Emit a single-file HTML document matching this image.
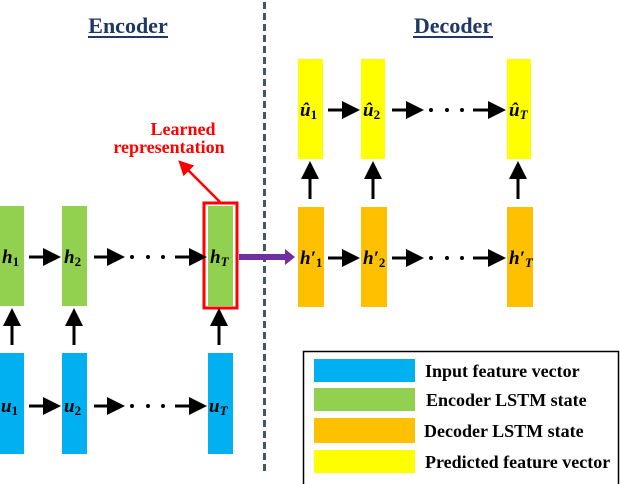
<!DOCTYPE html>
<html><head><meta charset="utf-8"><style>
body{margin:0;background:#fff;}
svg{display:block}
text{font-family:"Liberation Serif",serif;font-weight:bold;}
</style></head><body>
<svg width="620" height="484" viewBox="0 0 620 484" xmlns="http://www.w3.org/2000/svg">
<defs>
<marker id="a" markerWidth="6" markerHeight="6" refX="5" refY="3" orient="auto" markerUnits="strokeWidth"><path d="M0,0 L6,3 L0,6z" fill="#000"/></marker>
<marker id="r" markerWidth="6" markerHeight="6" refX="5" refY="3" orient="auto" markerUnits="strokeWidth"><path d="M0,0 L6,3 L0,6z" fill="#f00"/></marker>
</defs>
<line x1="264.5" y1="2" x2="264.5" y2="472" stroke="#44546a" stroke-width="3" stroke-dasharray="7,4"/>
<text x="128" y="33" font-size="22" fill="#1f3864" text-anchor="middle">Encoder</text>
<line x1="88" y1="37" x2="168" y2="37" stroke="#1f3864" stroke-width="2"/>
<text x="453" y="33" font-size="22" fill="#1f3864" text-anchor="middle">Decoder</text>
<line x1="413" y1="37" x2="493" y2="37" stroke="#1f3864" stroke-width="2"/>
<text x="183" y="135" font-size="18" fill="#f00" text-anchor="middle">Learned</text>
<text x="169" y="153" font-size="18" fill="#f00" text-anchor="middle">representation</text>
<line x1="220" y1="202" x2="180" y2="162" stroke="#f00" stroke-width="2.5" marker-end="url(#r)"/>
<g fill="#92d050"><rect x="0" y="206" width="24" height="100"/><rect x="62" y="206" width="25" height="100"/><rect x="208" y="206" width="25" height="100"/></g>
<g fill="#00b0f0"><rect x="0" y="353" width="24" height="101"/><rect x="62" y="353" width="25" height="101"/><rect x="208" y="353" width="25" height="101"/></g>
<rect x="204" y="203" width="33" height="105" fill="none" stroke="#f00" stroke-width="3"/>
<g fill="#ffff00"><rect x="298" y="59" width="25" height="100"/><rect x="361" y="59" width="24" height="100"/><rect x="507" y="59" width="24" height="100"/></g>
<g fill="#ffc000"><rect x="298" y="207" width="26" height="100"/><rect x="361" y="207" width="26" height="100"/><rect x="507" y="207" width="26" height="100"/></g>
<g stroke="#000" stroke-width="3" marker-end="url(#a)">
<line x1="29" y1="257" x2="58" y2="257"/><line x1="94" y1="257" x2="122" y2="257"/><line x1="175" y1="257" x2="204" y2="257"/>
<line x1="29" y1="406" x2="58" y2="406"/><line x1="94" y1="406" x2="122" y2="406"/><line x1="175" y1="406" x2="204" y2="406"/>
<line x1="12" y1="345" x2="12" y2="311"/><line x1="74" y1="345" x2="74" y2="311"/><line x1="219" y1="345" x2="219" y2="311"/>
<line x1="328" y1="110" x2="357" y2="110"/><line x1="392" y1="110" x2="421" y2="110"/><line x1="473" y1="110" x2="503" y2="110"/>
<line x1="328" y1="258" x2="357" y2="258"/><line x1="392" y1="258" x2="421" y2="258"/><line x1="473" y1="258" x2="503" y2="258"/>
<line x1="310" y1="199" x2="310" y2="164"/><line x1="373" y1="199" x2="373" y2="164"/><line x1="518" y1="199" x2="518" y2="164"/>
</g>
<g fill="#000"><circle cx="132" cy="257" r="2"/><circle cx="148" cy="257" r="2"/><circle cx="163" cy="257" r="2"/>
<circle cx="132" cy="406" r="2"/><circle cx="148" cy="406" r="2"/><circle cx="163" cy="406" r="2"/>
<circle cx="431" cy="110" r="2"/><circle cx="447" cy="110" r="2"/><circle cx="462" cy="110" r="2"/>
<circle cx="431" cy="258" r="2"/><circle cx="447" cy="258" r="2"/><circle cx="462" cy="258" r="2"/></g>
<line x1="239" y1="257" x2="286" y2="257" stroke="#7030a0" stroke-width="6"/>
<path d="M285,249 L295,257 L285,265z" fill="#7030a0"/>
<g font-size="19" font-style="italic" fill="#000">
<text x="2" y="263">h<tspan font-size="13" font-style="normal" dy="3">1</tspan></text>
<text x="64" y="263">h<tspan font-size="13" font-style="normal" dy="3">2</tspan></text>
<text x="210" y="263">h<tspan font-size="13" dy="3">T</tspan></text>
<text x="1" y="412">u<tspan font-size="13" font-style="normal" dy="3">1</tspan></text>
<text x="64" y="412">u<tspan font-size="13" font-style="normal" dy="3">2</tspan></text>
<text x="209" y="412">u<tspan font-size="13" dy="3">T</tspan></text>
<text x="300" y="264">h′<tspan font-size="13" font-style="normal" dy="3">1</tspan></text>
<text x="363" y="264">h′<tspan font-size="13" font-style="normal" dy="3">2</tspan></text>
<text x="509" y="264">h′<tspan font-size="13" dy="3">T</tspan></text>
<text x="300" y="116">û<tspan font-size="13" font-style="normal" dy="3">1</tspan></text>
<text x="363" y="116">û<tspan font-size="13" font-style="normal" dy="3">2</tspan></text>
<text x="509" y="116">û<tspan font-size="13" dy="3">T</tspan></text>
</g>
<rect x="303.5" y="351.5" width="315" height="140" fill="none" stroke="#000" stroke-width="1.5"/>
<rect x="314" y="359" width="101" height="23" fill="#00b0f0"/>
<rect x="314" y="388" width="101" height="23" fill="#92d050"/>
<rect x="314" y="418" width="101" height="25" fill="#ffc000"/>
<rect x="314" y="450" width="101" height="23" fill="#ffff00"/>
<g font-size="18" fill="#000">
<text x="425" y="377">Input feature vector</text>
<text x="426" y="406">Encoder LSTM state</text>
<text x="424" y="437">Decoder LSTM state</text>
<text x="425" y="468">Predicted feature vector</text>
</g>
</svg>
</body></html>
